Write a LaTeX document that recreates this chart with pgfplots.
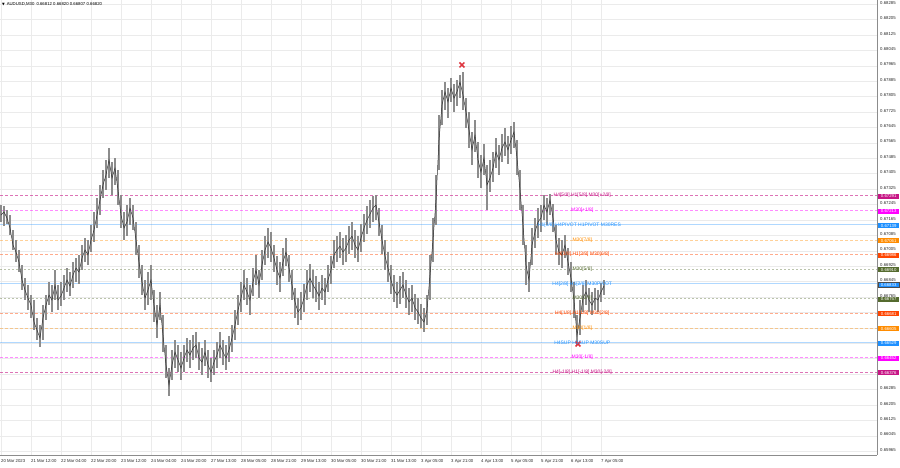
\documentclass[border=0pt]{standalone}
\usepackage{pgfplots}
\pgfplotsset{compat=1.18}
\usepackage{pgfplotstable}
\usepackage{fontspec}
\setmainfont{Liberation Sans}
\newfontfamily\dejavu{DejaVu Sans}
\definecolor{lvDM}{RGB}{199,21,133}
\definecolor{lvMG}{RGB}{255,0,255}
\definecolor{lvBL}{RGB}{30,144,255}
\definecolor{lvOR}{RGB}{255,140,0}
\definecolor{lvRD}{RGB}{255,69,0}
\definecolor{lvOL}{RGB}{85,107,47}
\definecolor{xred}{RGB}{222,52,62}

\pgfplotstableread{
x c h l
0 0.67190 0.67242 0.67154
3.2 0.67206 0.67237 0.67133
6.4 0.67175 0.67216 0.67143
9.6 0.67123 0.67190 0.67086
12.8 0.67034 0.67112 0.67009
16 0.66998 0.67060 0.66946
19.2 0.66946 0.67009 0.66894
22.4 0.66853 0.66931 0.66801
25.6 0.66801 0.66863 0.66749
28.8 0.66759 0.66827 0.66697
32 0.66723 0.66775 0.66656
35.2 0.66635 0.66749 0.66593
38.4 0.66593 0.66656 0.66541
41.6 0.66552 0.66619 0.66505
44.8 0.66656 0.66723 0.66541
48 0.66723 0.66775 0.66645
51.2 0.66775 0.66842 0.66723
54.4 0.66749 0.66827 0.66687
57.6 0.66827 0.66905 0.66749
60.8 0.66749 0.66827 0.66697
64 0.66770 0.66842 0.66718
67.2 0.66811 0.66879 0.66749
70.4 0.66853 0.66915 0.66791
73.6 0.66822 0.66894 0.66770
76.8 0.66879 0.66946 0.66811
80 0.66915 0.66967 0.66842
83.2 0.66894 0.66983 0.66832
86.4 0.66967 0.67034 0.66905
89.6 0.67009 0.67071 0.66946
92.8 0.66983 0.67060 0.66931
96 0.67060 0.67138 0.66998
99.2 0.67112 0.67206 0.67050
102.4 0.67190 0.67278 0.67123
105.6 0.67268 0.67346 0.67190
108.8 0.67346 0.67424 0.67278
112 0.67398 0.67476 0.67320
115.2 0.67476 0.67538 0.67382
118.4 0.67382 0.67465 0.67294
121.6 0.67434 0.67486 0.67346
124.8 0.67320 0.67424 0.67242
128 0.67190 0.67294 0.67123
131.2 0.67123 0.67206 0.67060
134.4 0.67154 0.67242 0.67081
137.6 0.67226 0.67278 0.67138
140.8 0.67175 0.67242 0.67112
144 0.67060 0.67154 0.66983
147.2 0.66946 0.67034 0.66863
150.4 0.66842 0.66931 0.66775
153.6 0.66759 0.66853 0.66697
156.8 0.66801 0.66894 0.66723
160 0.66853 0.66931 0.66749
163.2 0.66723 0.66801 0.66635
166.4 0.66619 0.66723 0.66552
169.6 0.66723 0.66791 0.66645
172.8 0.66567 0.66671 0.66479
176 0.66412 0.66515 0.66344
179.2 0.66308 0.66396 0.66251
182.4 0.66412 0.66490 0.66334
185.6 0.66479 0.66541 0.66396
188.8 0.66438 0.66515 0.66375
192 0.66396 0.66479 0.66334
195.2 0.66448 0.66515 0.66375
198.4 0.66490 0.66552 0.66427
201.6 0.66464 0.66541 0.66396
204.8 0.66500 0.66567 0.66438
208 0.66515 0.66583 0.66448
211.2 0.66448 0.66531 0.66386
214.4 0.66427 0.66500 0.66360
217.6 0.66479 0.66541 0.66407
220.8 0.66412 0.66490 0.66344
224 0.66375 0.66448 0.66323
227.2 0.66427 0.66490 0.66360
230.4 0.66464 0.66531 0.66396
233.6 0.66515 0.66583 0.66448
236.8 0.66479 0.66541 0.66412
240 0.66448 0.66515 0.66386
243.2 0.66490 0.66562 0.66427
246.4 0.66552 0.66619 0.66479
249.6 0.66619 0.66697 0.66541
252.8 0.66697 0.66775 0.66619
256 0.66759 0.66842 0.66687
259.2 0.66827 0.66905 0.66749
262.4 0.66791 0.66863 0.66723
265.6 0.66749 0.66827 0.66671
268.8 0.66842 0.66915 0.66770
272 0.66905 0.66983 0.66827
275.2 0.66827 0.66905 0.66759
278.4 0.66931 0.67009 0.66853
281.6 0.67009 0.67081 0.66931
284.8 0.67050 0.67123 0.66967
288 0.67019 0.67102 0.66946
291.2 0.66967 0.67034 0.66894
294.4 0.66905 0.66977 0.66827
297.6 0.66863 0.66946 0.66791
300.8 0.66946 0.67019 0.66874
304 0.66998 0.67071 0.66926
307.2 0.66915 0.66983 0.66842
310.4 0.66827 0.66905 0.66749
313.6 0.66739 0.66811 0.66656
316.8 0.66687 0.66759 0.66619
320 0.66708 0.66791 0.66645
323.2 0.66759 0.66832 0.66687
326.4 0.66827 0.66905 0.66749
329.6 0.66863 0.66936 0.66791
332.8 0.66827 0.66905 0.66759
336 0.66801 0.66874 0.66739
339.2 0.66770 0.66842 0.66697
342.4 0.66811 0.66879 0.66749
345.6 0.66791 0.66863 0.66723
348.8 0.66853 0.66931 0.66791
352 0.66905 0.66977 0.66832
355.2 0.66983 0.67060 0.66915
358.4 0.67009 0.67081 0.66946
361.6 0.67029 0.67102 0.66967
364.8 0.66998 0.67071 0.66931
368 0.67019 0.67086 0.66946
371.2 0.67060 0.67133 0.66988
374.4 0.67081 0.67154 0.67009
377.6 0.67034 0.67112 0.66967
380.8 0.67009 0.67081 0.66946
384 0.67071 0.67143 0.66998
387.2 0.67123 0.67195 0.67050
390.4 0.67164 0.67237 0.67092
393.6 0.67195 0.67268 0.67123
396.8 0.67226 0.67289 0.67154
400 0.67242 0.67294 0.67164
403.2 0.67154 0.67226 0.67081
406.4 0.67060 0.67138 0.66988
409.6 0.66977 0.67060 0.66905
412.8 0.66915 0.66998 0.66842
416 0.66853 0.66931 0.66780
419.2 0.66801 0.66879 0.66739
422.4 0.66775 0.66842 0.66708
425.6 0.66801 0.66874 0.66728
428.8 0.66827 0.66894 0.66759
432 0.66775 0.66853 0.66708
435.2 0.66739 0.66811 0.66671
438.4 0.66759 0.66827 0.66687
441.6 0.66708 0.66780 0.66645
444.8 0.66687 0.66759 0.66624
448 0.66656 0.66728 0.66604
451.2 0.66635 0.66708 0.66583
454.4 0.66697 0.66775 0.66619
457.6 0.66879 0.66983 0.66749
460.8 0.67060 0.67175 0.66946
464 0.67268 0.67398 0.67138
467.2 0.67579 0.67709 0.67424
470.4 0.67761 0.67839 0.67657
473.6 0.67829 0.67880 0.67735
476.8 0.67777 0.67849 0.67694
480 0.67849 0.67901 0.67777
483.2 0.67797 0.67870 0.67725
486.4 0.67829 0.67891 0.67756
489.6 0.67880 0.67917 0.67797
492.8 0.67813 0.67932 0.67735
496 0.67725 0.67797 0.67642
499.2 0.67631 0.67725 0.67538
502.4 0.67528 0.67621 0.67450
505.6 0.67605 0.67683 0.67517
508.8 0.67476 0.67569 0.67382
512 0.67413 0.67502 0.67330
515.2 0.67486 0.67559 0.67398
518.4 0.67346 0.67450 0.67216
521.6 0.67382 0.67476 0.67310
524.8 0.67434 0.67517 0.67361
528 0.67517 0.67590 0.67434
531.2 0.67476 0.67553 0.67398
534.4 0.67538 0.67611 0.67465
537.6 0.67569 0.67642 0.67496
540.8 0.67528 0.67600 0.67455
544 0.67579 0.67652 0.67507
547.2 0.67621 0.67673 0.67538
550.4 0.67486 0.67579 0.67398
553.6 0.67320 0.67424 0.67216
556.8 0.67138 0.67242 0.67034
560 0.66931 0.67034 0.66827
563.2 0.66853 0.66946 0.66791
566.4 0.67034 0.67123 0.66931
569.6 0.67102 0.67175 0.67019
572.8 0.67154 0.67226 0.67071
576 0.67175 0.67242 0.67102
579.2 0.67242 0.67294 0.67164
582.4 0.67206 0.67278 0.67138
585.6 0.67268 0.67299 0.67190
588.8 0.67175 0.67247 0.67102
592 0.67060 0.67138 0.66983
595.2 0.66998 0.67071 0.66931
598.4 0.66983 0.67060 0.66915
601.6 0.67034 0.67086 0.66967
604.8 0.66946 0.67019 0.66879
608 0.66863 0.66946 0.66791
611.2 0.66749 0.66842 0.66656
614.4 0.66567 0.66671 0.66515
617.6 0.66656 0.66749 0.66567
620.8 0.66759 0.66827 0.66687
624 0.66791 0.66853 0.66723
627.2 0.66749 0.66811 0.66687
630.4 0.66723 0.66791 0.66671
633.6 0.66759 0.66811 0.66697
636.8 0.66749 0.66801 0.66687
640 0.66791 0.66837 0.66739
643.2 0.66822 0.66853 0.66775
}\price

\begin{document}
\begin{tikzpicture}
\useasboundingbox (0,0) rectangle (900bp,468bp);
\begin{axis}[
  at={(0,13bp)}, anchor=south west,
  scale only axis, width=877bp, height=455bp,
  xmin=-1.0667, xmax=934.4, ymin=0.65945, ymax=0.68306,
  clip mode=individual,
  axis x line*=bottom, axis y line*=right,
  axis line style={black!45, line width=0.5bp},
  major tick length=0pt,
  grid=major, major grid style={black!8, line width=0.4bp},
  xtick={0,32,...,640},
  xticklabels={20 Mar 2023,21 Mar 12:00,22 Mar 04:00,22 Mar 20:00,23 Mar 12:00,24 Mar 04:00,24 Mar 20:00,27 Mar 13:00,28 Mar 05:00,28 Mar 21:00,29 Mar 13:00,30 Mar 05:00,30 Mar 21:00,31 Mar 13:00,3 Apr 05:00,3 Apr 21:00,4 Apr 13:00,5 Apr 05:00,5 Apr 21:00,6 Apr 13:00,7 Apr 05:00},
  ytick={0.65965,0.66045,0.66125,0.66205,0.66285,0.66365,0.66445,0.66525,0.66605,0.66685,0.66765,0.66845,0.66925,0.67005,0.67085,0.67165,0.67245,0.67325,0.67405,0.67485,0.67565,0.67645,0.67725,0.67805,0.67885,0.67965,0.68045,0.68125,0.68205,0.68285},
  yticklabels={0.65965,0.66045,0.66125,0.66205,0.66285,{},{},{},{},{},0.66765,0.66845,0.66925,0.67005,0.67085,0.67165,0.67245,0.67325,0.67405,0.67485,0.67565,0.67645,0.67725,0.67805,0.67885,0.67965,0.68045,0.68125,0.68205,0.68285},
  xticklabel style={font=\fontsize{4.3}{5}\selectfont, anchor=north west, inner sep=0pt, yshift=-4.5bp, xshift=0bp, text=black!85},
  yticklabel style={font=\fontsize{4.3}{5}\selectfont, anchor=west, inner sep=0pt, xshift=3bp, yshift=1.3bp, text=black!85},
  scaled y ticks=false,
]
% Murrey levels
\addplot[lvDM, opacity=0.6, line width=0.5bp, dash pattern=on 3bp off 2bp] coordinates {(-1.0667,0.67291) (934.4,0.67291)};
\addplot[lvMG, opacity=0.45, line width=0.5bp, dash pattern=on 3bp off 2bp] coordinates {(-1.0667,0.67213) (934.4,0.67213)};
\addplot[lvBL, opacity=0.35, line width=0.9bp] coordinates {(-1.0667,0.67139) (934.4,0.67139)};
\addplot[lvOR, opacity=0.4, line width=0.5bp, dash pattern=on 3bp off 2bp] coordinates {(-1.0667,0.67061) (934.4,0.67061)};
\addplot[lvRD, opacity=0.45, line width=0.5bp, dash pattern=on 3bp off 2bp] coordinates {(-1.0667,0.66986) (934.4,0.66986)};
\addplot[lvOL, opacity=0.4, line width=0.5bp, dash pattern=on 2bp off 2bp] coordinates {(-1.0667,0.66910) (934.4,0.66910)};
\addplot[lvBL, opacity=0.35, line width=0.9bp] coordinates {(-1.0667,0.66833) (934.4,0.66833)};
\addplot[lvOL, opacity=0.4, line width=0.5bp, dash pattern=on 2bp off 2bp] coordinates {(-1.0667,0.66757) (934.4,0.66757)};
\addplot[lvRD, opacity=0.45, line width=0.5bp, dash pattern=on 3bp off 2bp] coordinates {(-1.0667,0.66681) (934.4,0.66681)};
\addplot[lvOR, opacity=0.4, line width=0.5bp, dash pattern=on 3bp off 2bp] coordinates {(-1.0667,0.66605) (934.4,0.66605)};
\addplot[lvBL, opacity=0.35, line width=0.9bp] coordinates {(-1.0667,0.66529) (934.4,0.66529)};
\addplot[lvMG, opacity=0.45, line width=0.5bp, dash pattern=on 3bp off 2bp] coordinates {(-1.0667,0.66452) (934.4,0.66452)};
\addplot[lvDM, opacity=0.6, line width=0.5bp, dash pattern=on 3bp off 2bp] coordinates {(-1.0667,0.66376) (934.4,0.66376)};
% price ranges and closes
\addplot[draw=none, no markers, error bars/.cd, y dir=both, y explicit, error mark=none,
  error bar style={draw=black!45, solid, line width=1.5bp}]
  table[x=x, y=c, y error plus expr=\thisrow{h}-\thisrow{c}, y error minus expr=\thisrow{c}-\thisrow{l}] {\price};
\addplot[black!80, line width=0.5bp, no markers] table[x=x, y=c] {\price};
% fractal crosses
\addplot[only marks, mark=x, mark size=3.5bp, xred, mark options={line width=1.5bp}] coordinates {(491.7,0.67969) (615.5,0.66521)};
% level labels
\begin{scope}[every node/.style={font=\fontsize{5}{6}\selectfont, inner sep=0pt}]
\node[text=lvDM] at (axis cs:620,0.67291) {H4[5/8] H1[5/8] M30[+2/8]};
\node[text=lvMG] at (axis cs:620,0.67213) {M30[+1/8]};
\node[text=lvBL] at (axis cs:617,0.67139) {H1[3/8] H4PIVOT H1PIVOT M30RES};
\node[text=lvOR] at (axis cs:620,0.67061) {M30[7/8]};
\node[text=lvRD] at (axis cs:620,0.66986) {H4[3/8] H1[3/8] M30[6/8]};
\node[text=lvOL] at (axis cs:620,0.66910) {M30[5/8]};
\node[text=lvBL] at (axis cs:620,0.66833) {H4[2/8] H1[2/8] M30PIVOT};
\node[text=lvOL] at (axis cs:620,0.66757) {M30[3/8]};
\node[text=lvRD] at (axis cs:620,0.66681) {H4[1/8] H1[1/8] M30[2/8]};
\node[text=lvOR] at (axis cs:620,0.66605) {M30[1/8]};
\node[text=lvBL] at (axis cs:620,0.66529) {H4SUP H1SUP M30SUP};
\node[text=lvMG] at (axis cs:620,0.66452) {M30[-1/8]};
\node[text=lvDM] at (axis cs:620,0.66376) {H4[-1/8] H1[-1/8] M30[-2/8]};
\end{scope}
% price boxes on the right scale
\begin{scope}[every node/.style={font=\fontsize{4.3}{5}\selectfont, text=white, anchor=west, inner sep=0pt, minimum width=21bp, minimum height=5bp, xshift=1bp, yshift=-0.8bp}]
\node[fill=lvDM] at (axis cs:934.4,0.67291) {0.67291};
\node[fill=lvMG] at (axis cs:934.4,0.67213) {0.67213};
\node[fill=lvBL] at (axis cs:934.4,0.67139) {0.67139};
\node[fill=lvOR] at (axis cs:934.4,0.67061) {0.67061};
\node[fill=lvRD] at (axis cs:934.4,0.66986) {0.66986};
\node[fill=lvOL] at (axis cs:934.4,0.66910) {0.66910};
\node[fill=lvBL, draw=black!70, line width=0.3bp] at (axis cs:934.4,0.66833) {0.66833};
\node[fill=lvOL] at (axis cs:934.4,0.66757) {0.66757};
\node[fill=lvRD] at (axis cs:934.4,0.66681) {0.66681};
\node[fill=lvOR] at (axis cs:934.4,0.66605) {0.66605};
\node[fill=lvBL] at (axis cs:934.4,0.66529) {0.66529};
\node[fill=lvMG] at (axis cs:934.4,0.66452) {0.66452};
\node[fill=lvDM] at (axis cs:934.4,0.66376) {0.66376};
\end{scope}
% title
\node[anchor=north west, inner sep=0pt, font=\fontsize{4.3}{5}\selectfont, xshift=2bp, yshift=-2bp] at (rel axis cs:0,1) {{\dejavu\fontsize{3.5}{4}\selectfont ▼}\, AUDUSD,M30\enspace 0.66812 0.66820 0.66807 0.66820};
\end{axis}
\end{tikzpicture}
\end{document}
